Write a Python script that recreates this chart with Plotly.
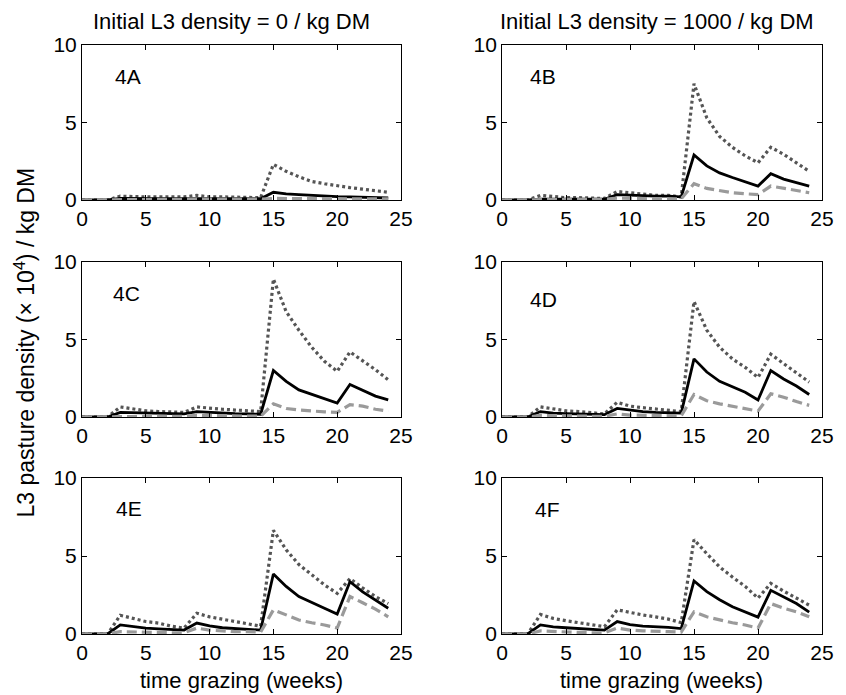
import plotly.graph_objects as go
from plotly.subplots import make_subplots

weeks = list(range(25))

# Panel 4A (initial 0, row 1)
a_dot = [0, 0, 0, 0.25, 0.2, 0.2, 0.2, 0.2, 0.2, 0.3, 0.2, 0.2, 0.2, 0.2, 0.15, 2.3, 1.85, 1.5, 1.2, 1.05, 0.9, 0.8, 0.7, 0.6, 0.5]
a_solid = [0, 0, 0, 0.1, 0.08, 0.08, 0.08, 0.08, 0.08, 0.12, 0.08, 0.08, 0.08, 0.08, 0.08, 0.5, 0.4, 0.35, 0.3, 0.25, 0.22, 0.2, 0.18, 0.15, 0.13]
a_dash = [0, 0, 0, 0.05, 0.05, 0.05, 0.05, 0.05, 0.05, 0.06, 0.05, 0.05, 0.05, 0.05, 0.05, 0.1, 0.09, 0.09, 0.08, 0.08, 0.08, 0.08, 0.08, 0.08, 0.08]

# Panel 4B (initial 1000, row 1)
b_dot = [0, 0, 0, 0.3, 0.2, 0.15, 0.15, 0.15, 0.1, 0.55, 0.45, 0.35, 0.3, 0.3, 0.2, 7.5, 5.3, 4.1, 3.4, 2.85, 2.4, 3.4, 2.95, 2.4, 1.85]
b_solid = [0, 0, 0, 0.05, 0.05, 0.05, 0.05, 0.05, 0.05, 0.35, 0.3, 0.28, 0.25, 0.25, 0.2, 2.9, 2.2, 1.75, 1.45, 1.2, 0.9, 1.7, 1.35, 1.12, 0.9]
b_dash = [0, 0, 0, 0.05, 0.05, 0.05, 0.05, 0.05, 0.05, 0.12, 0.1, 0.08, 0.08, 0.08, 0.08, 1.05, 0.75, 0.6, 0.47, 0.4, 0.35, 0.9, 0.75, 0.6, 0.47]

# Panel 4C (initial 0, row 2)
c_dot = [0, 0, 0, 0.65, 0.5, 0.4, 0.35, 0.3, 0.3, 0.65, 0.55, 0.5, 0.45, 0.4, 0.35, 8.9, 6.8, 5.6, 4.5, 3.6, 2.95, 4.2, 3.65, 3.05, 2.4]
c_solid = [0, 0, 0, 0.3, 0.28, 0.25, 0.22, 0.2, 0.2, 0.35, 0.3, 0.25, 0.22, 0.2, 0.18, 3.0, 2.3, 1.75, 1.45, 1.15, 0.9, 2.1, 1.7, 1.35, 1.1]
c_dash = [0, 0, 0, 0.05, 0.05, 0.05, 0.05, 0.05, 0.05, 0.1, 0.08, 0.06, 0.05, 0.05, 0.05, 0.85, 0.55, 0.45, 0.38, 0.33, 0.3, 0.8, 0.7, 0.5, 0.38]

# Panel 4D (initial 1000, row 2)
d_dot = [0, 0, 0, 0.65, 0.5, 0.4, 0.35, 0.3, 0.2, 0.95, 0.7, 0.6, 0.5, 0.45, 0.35, 7.45, 5.6, 4.5, 3.75, 3.2, 2.55, 4.05, 3.45, 2.9, 2.25]
d_solid = [0, 0, 0, 0.35, 0.25, 0.22, 0.2, 0.2, 0.15, 0.55, 0.45, 0.35, 0.3, 0.28, 0.25, 3.75, 2.9, 2.3, 1.95, 1.6, 1.1, 3.0, 2.45, 2.0, 1.45]
d_dash = [0, 0, 0, 0.1, 0.08, 0.05, 0.05, 0.05, 0.05, 0.2, 0.12, 0.1, 0.08, 0.08, 0.08, 1.45, 1.05, 0.85, 0.7, 0.5, 0.38, 1.5, 1.28, 1.0, 0.75]

# Panel 4E (initial 0, row 3)
e_dot = [0, 0, 0, 1.2, 1.0, 0.8, 0.7, 0.5, 0.38, 1.33, 1.1, 0.95, 0.8, 0.7, 0.5, 6.65, 5.4, 4.45, 3.8, 3.15, 2.6, 3.55, 2.95, 2.4, 1.95]
e_solid = [0, 0, 0, 0.58, 0.47, 0.38, 0.33, 0.28, 0.25, 0.7, 0.52, 0.4, 0.35, 0.32, 0.25, 3.85, 3.05, 2.4, 2.05, 1.65, 1.28, 3.35, 2.7, 2.2, 1.65]
e_dash = [0, 0, 0, 0.15, 0.12, 0.1, 0.1, 0.08, 0.08, 0.38, 0.25, 0.18, 0.15, 0.15, 0.12, 1.55, 1.2, 0.9, 0.72, 0.58, 0.38, 2.4, 2.0, 1.6, 1.1]

# Panel 4F (initial 1000, row 3)
f_dot = [0, 0, 0, 1.25, 1.0, 0.85, 0.72, 0.58, 0.47, 1.55, 1.37, 1.22, 1.1, 0.95, 0.73, 6.05, 5.15, 4.3, 3.65, 3.05, 2.3, 3.25, 2.75, 2.3, 1.85]
f_solid = [0, 0, 0, 0.58, 0.45, 0.4, 0.35, 0.3, 0.25, 0.8, 0.6, 0.5, 0.47, 0.42, 0.35, 3.4, 2.72, 2.2, 1.75, 1.42, 1.08, 2.8, 2.4, 1.95, 1.4]
f_dash = [0, 0, 0, 0.2, 0.15, 0.12, 0.1, 0.08, 0.08, 0.38, 0.25, 0.2, 0.15, 0.15, 0.12, 1.42, 1.1, 0.9, 0.72, 0.58, 0.38, 1.95, 1.65, 1.42, 1.1]

panel_labels = ["4A", "4B", "4C", "4D", "4E", "4F"]
col_titles = ["Initial L3 density = 0 / kg DM", "Initial L3 density = 1000 / kg DM"]
x_title = "time grazing (weeks)"
y_title = "L3 pasture density (× 10<sup>4</sup>) / kg DM"
x_ticks = [0, 5, 10, 15, 20, 25]
y_ticks = [0, 5, 10]

panels = [
    (1, 1, a_dot, a_solid, a_dash),
    (1, 2, b_dot, b_solid, b_dash),
    (2, 1, c_dot, c_solid, c_dash),
    (2, 2, d_dot, d_solid, d_dash),
    (3, 1, e_dot, e_solid, e_dash),
    (3, 2, f_dot, f_solid, f_dash),
]

FONT = "Liberation Sans, Arial, Helvetica, sans-serif"

fig = make_subplots(rows=3, cols=2)

for r, c, dot, solid, dash in panels:
    fig.add_trace(go.Scatter(x=weeks, y=dot, mode="lines",
                             line=dict(color="#555555", width=3.2, dash="3px,3px"),
                             showlegend=False), row=r, col=c)
    fig.add_trace(go.Scatter(x=weeks, y=solid, mode="lines",
                             line=dict(color="#000000", width=2.8),
                             showlegend=False), row=r, col=c)
    fig.add_trace(go.Scatter(x=weeks, y=dash, mode="lines",
                             line=dict(color="#9a9a9a", width=3.2, dash="10px,5px"),
                             showlegend=False), row=r, col=c)

# The page body has an 8px margin, so the figure is drawn 8px smaller and the
# margins are reduced by 8px; plot-area pixel positions then match the reference.
OFF = 8
W, H = 846 - OFF, 695 - OFF
ml, mr, mt, mb = 82 - OFF, 17, 45 - OFF, 61
pw, ph = W - ml - mr, H - mt - mb
left_px, top_px, bottom_px = 82, 45, 634  # page coordinates of the full plot area


def px_x(x):
    return (x - left_px) / pw


def px_y(y):
    return (bottom_px - y) / ph


col_dom = [[0, px_x(404)], [px_x(506), 1]]
row_dom = [[px_y(200), 1.0], [px_y(417), px_y(262)], [0.0, px_y(478)]]

for r in range(1, 4):
    for c in range(1, 3):
        fig.update_xaxes(domain=col_dom[c - 1], range=[0, 25], tickvals=x_ticks,
                         ticks="inside", ticklen=5, tickcolor="black",
                         showline=True, linecolor="black", linewidth=1, mirror="allticks",
                         showgrid=False, zeroline=False,
                         tickfont=dict(family=FONT, size=21, color="black"),
                         row=r, col=c)
        fig.update_yaxes(domain=row_dom[r - 1], range=[0, 10], tickvals=y_ticks,
                         ticks="inside", ticklen=5, tickcolor="black",
                         showline=True, linecolor="black", linewidth=1, mirror="allticks",
                         showgrid=False, zeroline=False,
                         tickfont=dict(family=FONT, size=21, color="black"),
                         row=r, col=c)

annots = []
label_pos = [(2.4, 8.0), (2.0, 8.0), (2.3, 8.0), (2.0, 7.6), (2.5, 8.05), (2.4, 7.95)]
axis_ids = ["", "2", "3", "4", "5", "6"]
for lab, (lx, ly), aid in zip(panel_labels, label_pos, axis_ids):
    annots.append(dict(text=lab, x=lx, y=ly, xref="x" + aid, yref="y" + aid,
                       xanchor="left", yanchor="middle", showarrow=False,
                       font=dict(family=FONT, size=21, color="black")))

for title, cx in zip(col_titles, [px_x(233), px_x(662)]):
    annots.append(dict(text=title, x=cx, y=px_y(21), xref="paper", yref="paper",
                       xanchor="center", yanchor="middle", showarrow=False,
                       font=dict(family=FONT, size=22, color="black")))

for cx in [px_x(243), px_x(667)]:
    annots.append(dict(text=x_title, x=cx, y=px_y(680),
                       xref="paper", yref="paper", xanchor="center", yanchor="middle",
                       showarrow=False, font=dict(family=FONT, size=22, color="black")))

annots.append(dict(text=y_title, x=px_x(24), y=px_y(343), xref="paper", yref="paper",
                   xanchor="center", yanchor="middle", textangle=-90, showarrow=False,
                   font=dict(family=FONT, size=23, color="black")))

fig.update_layout(width=W, height=H, margin=dict(l=ml, r=mr, t=mt, b=mb),
                  plot_bgcolor="white", paper_bgcolor="white",
                  annotations=annots, showlegend=False)

fig.write_html("out.html")
